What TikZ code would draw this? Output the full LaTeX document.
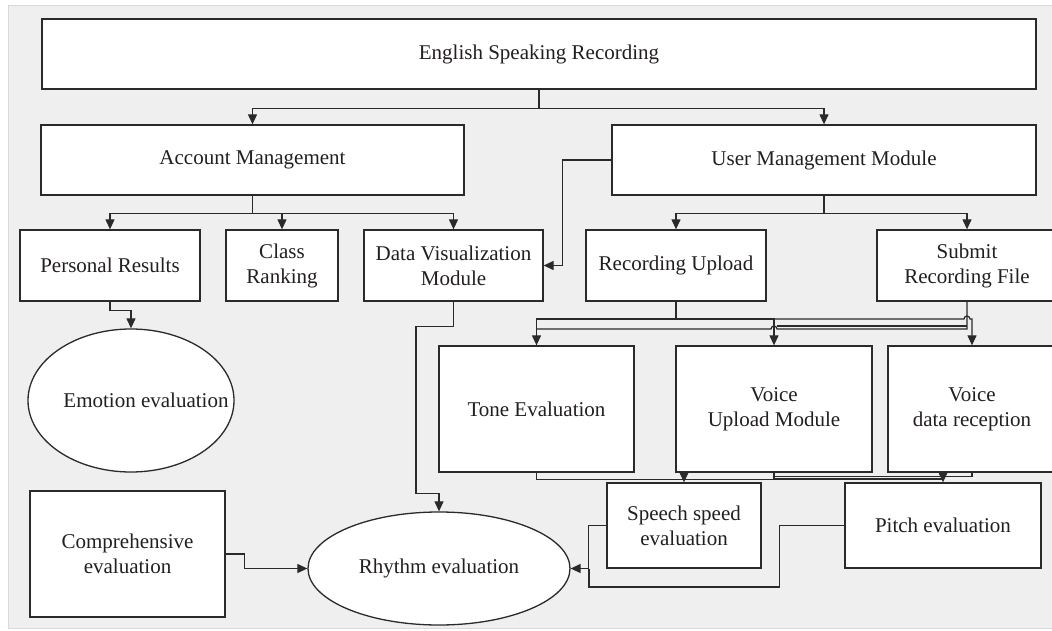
\documentclass[tikz,border=0pt]{standalone}
\usepackage{fontspec}
\setmainfont{Liberation Serif}
\usetikzlibrary{arrows.meta,shapes.geometric}
\definecolor{panel}{HTML}{EFEFEF}
\definecolor{panelrule}{HTML}{D9D9D9}
\definecolor{ink}{HTML}{2A2A2A}
\definecolor{txt}{HTML}{231F20}
\begin{document}
\begin{tikzpicture}[x=1pt,y=-1pt,
  lbl/.style={text=txt,align=center,font=\fontsize{21}{25}\selectfont},
  box/.style={lbl,draw=ink,line width=1.3pt,fill=white,inner sep=2pt},
  oval/.style={lbl,ellipse,draw=ink,line width=1.3pt,fill=white,inner sep=0pt},
  link/.style={draw=ink,line width=1.2pt},
  arr/.style={link,-{Triangle[length=10pt,width=9pt]}}]
\useasboundingbox (0,0) rectangle (1052,631);
\clip (0,0) rectangle (1052,631);
% page and grey panel
\fill[white] (0,0) rectangle (1052,631);
\fill[panel] (8.5,5.5) rectangle (1060,628);
\draw[panelrule,line width=1pt] (1060,5.5) -- (8.5,5.5) -- (8.5,628) -- (1060,628);

% top levels
\node[box,minimum width=994,minimum height=70] (T) at (539,54) {English Speaking Recording};
\node[box,minimum width=423,minimum height=70] (A) at (252.5,160) {Account Management};
\node[box,minimum width=424,minimum height=70] (U) at (824,160) {User Management Module};

% third row
\node[box,minimum width=180,minimum height=71] (P) at (110,265.5) {Personal Results};
\node[box,minimum width=112,minimum height=71] (C) at (282,265.5) {Class\\Ranking};
\node[box,minimum width=179,minimum height=71] (D) at (453.5,265.5) {Data Visualization\\Module};
\node[box,minimum width=180,minimum height=71] (R) at (676,265.5) {Recording Upload};
\node[box,minimum width=180,minimum height=71] (S) at (967,265.5) {Submit\\Recording File};

% large evaluation boxes
\node[box,minimum width=195,minimum height=126] (E) at (536.5,409) {Tone Evaluation};
\node[box,minimum width=196,minimum height=126] (V) at (774,409) {Voice\\Upload Module};
\node[box,minimum width=168,minimum height=126] (W) at (972,409) {Voice\\data reception};

% lower row
\node[box,minimum width=154,minimum height=85] (SP) at (684,525.5) {Speech speed\\evaluation};
\node[box,minimum width=196,minimum height=85] (PI) at (943,525.5) {Pitch evaluation};
\node[box,minimum width=195,minimum height=126] (CE) at (127.5,554) {Comprehensive\\evaluation};

% ellipses
\node[oval,minimum width=206,minimum height=143] (EM) at (131,400.5) {};
\node[lbl] (EMt) at (146,400) {Emotion evaluation};
\node[oval,minimum width=262,minimum height=113] (RH) at (439,568.5) {Rhythm evaluation};

% top tree
\draw[arr] (T.south) -- ++(0,19) -| (A.north);
\draw[arr] (T.south) -- ++(0,19) -| (U.north);
\draw[arr] (A.south) -- ++(0,18) -| (P.north);
\draw[arr] (A.south) -- ++(0,18) -| (C.north);
\draw[arr] (A.south) -- ++(0,18) -| (D.north);
\draw[arr] (U.south) -- ++(0,18) -| (R.north);
\draw[arr] (U.south) -- ++(0,18) -| (S.north);
\draw[arr] (U.west) -- ++(-49,0) |- (D.east);

% left branch
\draw[arr] (P.south) -- ++(0,9) -| (EM.north);
\draw[arr] (D.south) -- ++(0,25) -| ++(-37.5,167) -| (RH.north);

% upload bus
\draw[link] (R.south) -- (676,319);
\draw[arr] (676,319) -| (E.north);
\draw[arr] (676,319) -| (V.north);
\draw[arr] (676,319) -- (964,319) arc[start angle=-180,end angle=0,radius=3] -- (972,319) -- (W.north);
\draw[link] (S.south) -- (967,329) -- (777,329) arc[start angle=0,end angle=-180,radius=3] -- (536.5,329);
\draw[link] (967,326) -- (777,326);

% evaluation bus
\draw[link] (E.south) -- ++(0,7) -| (V.south);
\draw[link] (V.south) -- ++(0,4) -| (W.south);
\draw[link] (774,479) -- (943,479);
\draw[arr] (684,473) -- (SP.north);
\draw[arr] (943,473) -- (PI.north);

% into rhythm evaluation
\draw[arr] (SP.west) -- ++(-18,0) |- (RH.east);
\draw[link] (PI.west) -- ++(-65,0) |- (589,587) -- (589,568.5);
\draw[arr] (CE.east) -- ++(19,0) |- (RH.west);
\end{tikzpicture}
\end{document}
